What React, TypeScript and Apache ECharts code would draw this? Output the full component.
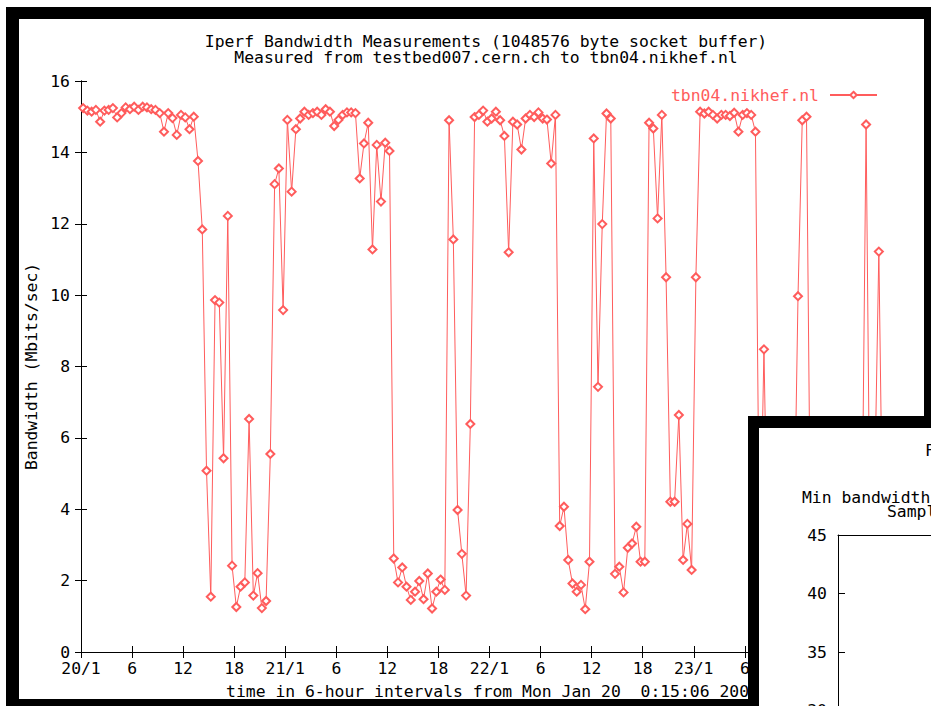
import React, { useEffect, useRef } from 'react';
import * as echarts from 'echarts';

// ---- data ----
const seriesName = 'tbn04.nikhef.nl';
const sampleStartHour = 0.25; // 0:15:06
const sampleStepHours = 0.5;
// Bandwidth (Mbits/sec), one value every 30 minutes (values below the inset window are estimates)
const bandwidth: number[] = [
  15.24, 15.17, 15.14, 15.19, 14.86, 15.17, 15.19, 15.24, 14.98, 15.1,
  15.26, 15.21, 15.28, 15.19, 15.28, 15.26, 15.21, 15.19, 15.1, 14.58,
  15.1, 14.96, 14.49, 15.05, 14.98, 14.65, 15.0, 13.76, 11.84, 5.08,
  1.55, 9.86, 9.79, 5.43, 12.22, 2.42, 1.26, 1.83, 1.95, 6.53,
  1.58, 2.21, 1.23, 1.43, 5.55, 13.11, 13.55, 9.58, 14.91, 12.9,
  14.65, 14.95, 15.14, 15.05, 15.1, 15.14, 15.05, 15.21, 15.14, 14.74,
  14.91, 15.05, 15.12, 15.12, 15.1, 13.27, 14.25, 14.83, 11.28, 14.21,
  12.62, 14.27, 14.04, 2.62, 1.95, 2.37, 1.83, 1.46, 1.69, 1.99,
  1.48, 2.2, 1.22, 1.69, 2.03, 1.74, 14.9, 11.56, 3.98, 2.75,
  1.58, 6.39, 14.99, 15.05, 15.17, 14.86, 14.95, 15.14, 14.9, 14.46,
  11.2, 14.86, 14.78, 14.08, 14.95, 15.05, 14.99, 15.12, 14.95, 14.92,
  13.69, 15.05, 3.53, 4.07, 2.58, 1.92, 1.69, 1.88, 1.2, 2.53,
  14.39, 7.43, 11.99, 15.09, 14.95, 2.19, 2.39, 1.67, 2.92, 3.04,
  3.51, 2.53, 2.53, 14.83, 14.67, 12.15, 15.05, 10.5, 4.21, 4.21,
  6.64, 2.58, 3.59, 2.3, 10.5, 15.14, 15.09, 15.14, 15.05, 14.95,
  15.05, 15.05, 15.02, 15.11, 14.58, 15.05, 15.1, 15.05, 14.58, 2.1,
  8.48, 1.6, 2.4, 1.9, 1.4, 2.2, 1.8, 2.6, 9.97, 14.9,
  15.0, 2.3, 1.7, 1.5, 2.0, 1.3, 1.8, 2.4, 1.6, 2.1,
  1.4, 1.9, 2.2, 2.8, 14.78, 2.0, 4.5, 11.22, 2.3,
];
const xTickLabels = [
  '20/1', '6', '12', '18', '21/1', '6', '12', '18', '22/1',
  '6', '12', '18', '23/1', '6', '12', '18', '24/1',
];
const titleLines = [
  'Iperf Bandwidth Measurements (1048576 byte socket buffer)',
  'Measured from testbed007.cern.ch to tbn04.nikhef.nl',
];
const xAxisName = 'time in 6-hour intervals from Mon Jan 20  0:15:06 2003';
const yAxisName = 'Bandwidth (Mbits/sec)';
const insetTitleParts = ['F', 'Min bandwidth', 'Sampl'];

const FONT = '"DejaVu Sans Mono", "Liberation Mono", monospace';
const RED = '#ff5c5c';
const FS = 16.4;

export default function App() {
  const mainRef = useRef<HTMLDivElement>(null);
  const insetRef = useRef<HTMLDivElement>(null);

  useEffect(() => {
    document.body.style.margin = '0';
    const main = echarts.init(mainRef.current!, null, { renderer: 'svg' });
    const inset = echarts.init(insetRef.current!, null, { renderer: 'svg' });

    const pts = bandwidth.map((v, i) => [sampleStartHour + i * sampleStepHours, v]);
    const axisText = { color: '#000', fontSize: FS, fontFamily: FONT };

    main.setOption({
      animation: false,
      textStyle: { fontFamily: FONT },
      graphic: titleLines.map((t, i) => ({
        type: 'text',
        x: 486,
        y: 41 + i * 16,
        style: {
          text: t,
          fill: '#000',
          fontSize: FS,
          fontFamily: FONT,
          align: 'center',
          verticalAlign: 'middle',
        },
      })),
      grid: { left: 81, top: 81, right: 33, bottom: 54 },
      legend: {
        data: [seriesName],
        right: 53,
        top: 87,
        align: 'right',
        itemWidth: 47,
        itemHeight: 8,
        padding: 0,
        textStyle: { color: RED, fontSize: FS, fontFamily: FONT, padding: [0, 6, 0, 0] },
      },
      xAxis: [
        {
          type: 'value',
          min: 0,
          max: 96,
          interval: 6,
          position: 'bottom',
          axisLine: { lineStyle: { color: '#000', width: 1 } },
          axisTick: { inside: true, length: 6, lineStyle: { color: '#000' } },
          splitLine: { show: false },
          axisLabel: {
            ...axisText,
            margin: 8,
            formatter: (v: number) => xTickLabels[Math.round(v / 6)] ?? '',
          },
          name: xAxisName,
          nameLocation: 'middle',
          nameGap: 31,
          nameTextStyle: { ...axisText, padding: [0, 0, 0, 6] },
        },
        {
          type: 'value',
          min: 0,
          max: 96,
          interval: 6,
          position: 'top',
          axisLine: { lineStyle: { color: '#000', width: 1 } },
          axisTick: { inside: true, length: 6, lineStyle: { color: '#000' } },
          splitLine: { show: false },
          axisLabel: { show: false },
        },
      ],
      yAxis: [
        {
          type: 'value',
          min: 0,
          max: 16,
          interval: 2,
          position: 'left',
          axisLine: { show: true, lineStyle: { color: '#000', width: 1 } },
          axisTick: { show: true, inside: true, length: 6, lineStyle: { color: '#000' } },
          splitLine: { show: false },
          axisLabel: { ...axisText, margin: 11 },
          name: yAxisName,
          nameLocation: 'middle',
          nameGap: 38,
          nameTextStyle: axisText,
        },
        {
          type: 'value',
          min: 0,
          max: 16,
          interval: 2,
          position: 'right',
          axisLine: { show: true, lineStyle: { color: '#000', width: 1 } },
          axisTick: { show: true, inside: true, length: 6, lineStyle: { color: '#000' } },
          splitLine: { show: false },
          axisLabel: { show: false },
        },
      ],
      series: [
        {
          type: 'line',
          name: seriesName,
          data: pts,
          xAxisIndex: 0,
          yAxisIndex: 0,
          symbol: 'emptyDiamond',
          symbolSize: [8, 8],
          lineStyle: { color: RED, width: 1 },
          itemStyle: { color: RED, borderWidth: 1 },
          emphasis: { disabled: true },
        },
      ],
    });

    inset.setOption({
      animation: false,
      textStyle: { fontFamily: FONT },
      graphic: [
        { x: 166, y: 22, text: insetTitleParts[0] },
        { x: 43, y: 69, text: insetTitleParts[1] },
        { x: 128, y: 83, text: insetTitleParts[2] },
      ].map((g) => ({
        type: 'text',
        x: g.x,
        y: g.y,
        style: {
          text: g.text,
          fill: '#000',
          fontSize: FS,
          fontFamily: FONT,
          align: 'left',
          verticalAlign: 'middle',
        },
      })),
      grid: { left: 79, top: 107, width: 300, height: 234 },
      xAxis: [
        {
          type: 'value',
          min: 0,
          max: 10,
          position: 'bottom',
          axisLine: { lineStyle: { color: '#000' } },
          axisTick: { show: false },
          axisLabel: { show: false },
          splitLine: { show: false },
        },
        {
          type: 'value',
          min: 0,
          max: 10,
          position: 'top',
          axisLine: { lineStyle: { color: '#000' } },
          axisTick: { show: false },
          axisLabel: { show: false },
          splitLine: { show: false },
        },
      ],
      yAxis: {
        type: 'value',
        min: 25,
        max: 45,
        interval: 5,
        axisLine: { show: true, lineStyle: { color: '#000' } },
        axisTick: { show: true, inside: true, length: 7, lineStyle: { color: '#000' } },
        axisLabel: { ...axisText, margin: 11 },
        splitLine: { show: false },
      },
      series: [{ type: 'line', data: [] }],
    });

    return () => {
      main.dispose();
      inset.dispose();
    };
  }, []);

  return (
    <div style={{ position: 'relative', width: 931, height: 706, overflow: 'hidden', background: '#fff' }}>
      <div style={{ position: 'absolute', left: 6, top: 7, width: 925, height: 699, background: '#000' }} />
      <div style={{ position: 'absolute', left: 19, top: 19, width: 905, height: 680, background: '#fff' }} />
      <div ref={mainRef} style={{ position: 'absolute', left: 0, top: 0, width: 931, height: 706 }} />
      <div style={{ position: 'absolute', left: 748, top: 416, width: 183, height: 290, background: '#000' }} />
      <div style={{ position: 'absolute', left: 759, top: 428, width: 172, height: 278, overflow: 'hidden', background: '#fff' }}>
        <div ref={insetRef} style={{ width: 400, height: 391 }} />
      </div>
    </div>
  );
}
